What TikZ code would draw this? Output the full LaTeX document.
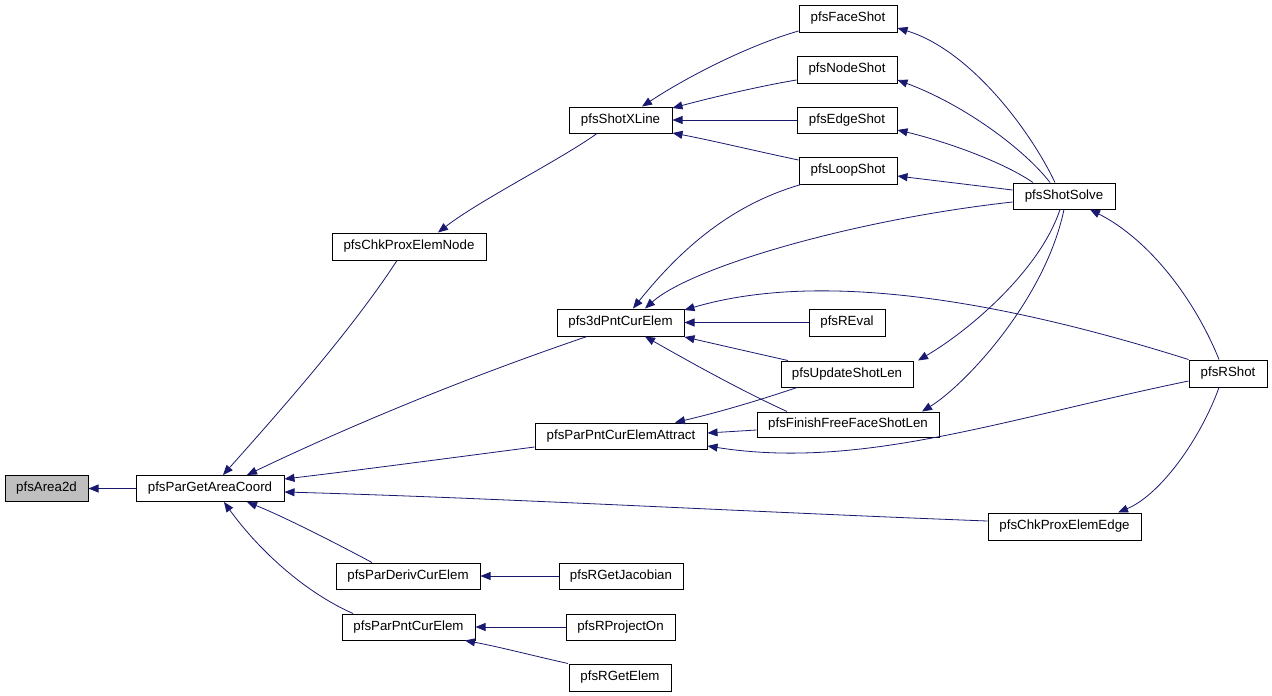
\documentclass[tikz,border=0pt]{standalone}
\usepackage{fontspec}
\setmainfont{Liberation Sans}
\usetikzlibrary{arrows.meta}
\definecolor{edgeblue}{HTML}{191970}
\definecolor{rootgray}{HTML}{BFBFBF}
\begin{document}
\begin{tikzpicture}[x=1pt,y=-1pt,
  fn/.style={draw=black,line width=1pt,inner sep=0pt,minimum height=26pt,fill=white,
    font=\fontsize{13.3pt}{16pt}\selectfont},
  call/.style={draw=edgeblue,line width=0.8pt,-{Triangle[length=10pt,width=8pt]}}]
\useasboundingbox[fill=white] (0,0) rectangle (1272,696);
% nodes
\node[fn,minimum width=83pt,fill=rootgray] (area) at (46.5,488.5) {pfsArea2d};
\node[fn,minimum width=148pt] (pgac) at (210,488.5) {pfsParGetAreaCoord};
\node[fn,minimum width=154pt,minimum height=27pt] (chkNode) at (409,246.5) {pfsChkProxElemNode};
\node[fn,minimum width=103pt] (shotX) at (620.5,120) {pfsShotXLine};
\node[fn,minimum width=98pt,minimum height=27pt] (faceShot) at (848,18.5) {pfsFaceShot};
\node[fn,minimum width=100pt,minimum height=27pt] (nodeShot) at (847,69.5) {pfsNodeShot};
\node[fn,minimum width=100pt] (edgeShot) at (847,120) {pfsEdgeShot};
\node[fn,minimum width=98pt,minimum height=27pt] (loopShot) at (848,170.5) {pfsLoopShot};
\node[fn,minimum width=102pt] (shotSolve) at (1064,196) {pfsShotSolve};
\node[fn,minimum width=78pt,minimum height=27pt] (rShot) at (1228,373.5) {pfsRShot};
\node[fn,minimum width=127pt,minimum height=27pt] (pnt3d) at (620.5,322.5) {pfs3dPntCurElem};
\node[fn,minimum width=76pt,minimum height=27pt] (rEval) at (847,322.5) {pfsREval};
\node[fn,minimum width=132pt] (updShot) at (847,374) {pfsUpdateShotLen};
\node[fn,minimum width=182pt,minimum height=25pt] (finish) at (848,424.5) {pfsFinishFreeFaceShotLen};
\node[fn,minimum width=172pt] (attract) at (621,436) {pfsParPntCurElemAttract};
\node[fn,minimum width=153pt,minimum height=27pt] (chkEdge) at (1064.5,526.5) {pfsChkProxElemEdge};
\node[fn,minimum width=144pt] (parDeriv) at (408,576) {pfsParDerivCurElem};
\node[fn,minimum width=124pt] (rGetJac) at (621,576) {pfsRGetJacobian};
\node[fn,minimum width=133pt] (parPnt) at (408.5,627) {pfsParPntCurElem};
\node[fn,minimum width=109pt] (rProj) at (620.5,627) {pfsRProjectOn};
\node[fn,minimum width=102pt,minimum height=27pt] (rGetElem) at (620,677.5) {pfsRGetElem};
% edges
\draw[call] (pgac.west) -- (area.east);
\draw[call] (397,0 |- chkNode.south) .. controls (355,325) and (290,400) .. (223,0 |- pgac.north);
\draw[call] (587,0 |- pnt3d.south) .. controls (474,375) and (360,421) .. (247,0 |- pgac.north);
\draw[call] (attract.west |- 0,447) .. controls (450,458) and (360,470) .. (pgac.east |- 0,479);
\draw[call] (chkEdge.west |- 0,521) .. controls (750,512) and (500,498) .. (pgac.east |- 0,492);
\draw[call] (372,0 |- parDeriv.north) .. controls (330,540) and (280,515) .. (247,0 |- pgac.south);
\draw[call] (353,0 |- parPnt.north) .. controls (300,590) and (255,545) .. (224,0 |- pgac.south);
\draw[call] (597,0 |- shotX.south) .. controls (560,160) and (480,200) .. (438,0 |- chkNode.north);
\draw[call] (faceShot.west |- 0,31) .. controls (750,45) and (690,75) .. (642,0 |- shotX.north);
\draw[call] (nodeShot.west |- 0,80) .. controls (760,86) and (710,98) .. (shotX.east |- 0,108);
\draw[call] (edgeShot.west) -- (shotX.east);
\draw[call] (loopShot.west |- 0,160) .. controls (760,152) and (710,140) .. (shotX.east |- 0,133);
\draw[call] (1055,0 |- shotSolve.north) .. controls (1030,130) and (970,50) .. (faceShot.east |- 0,28);
\draw[call] (1050,0 |- shotSolve.north) .. controls (1025,150) and (965,105) .. (nodeShot.east |- 0,80);
\draw[call] (1033,0 |- shotSolve.north) .. controls (1000,160) and (940,140) .. (edgeShot.east |- 0,130);
\draw[call] (shotSolve.west |- 0,190) .. controls (980,186) and (930,180) .. (loopShot.east |- 0,176);
\draw[call] (shotSolve.west |- 0,202) .. controls (850,220) and (690,268) .. (645,0 |- pnt3d.north);
\draw[call] (801,0 |- loopShot.south) .. controls (730,205) and (680,250) .. (633,0 |- pnt3d.north);
\draw[call] (rEval.west) -- (pnt3d.east);
\draw[call] (788,0 |- updShot.north) .. controls (750,352) and (720,345) .. (pnt3d.east |- 0,337);
\draw[call] (787,0 |- finish.north) .. controls (740,390) and (690,362) .. (645,0 |- pnt3d.south);
\draw[call] (rShot.north west) .. controls (1000,300) and (820,270) .. (pnt3d.east |- 0,310);
\draw[call] (1060,0 |- shotSolve.south) .. controls (1040,270) and (970,330) .. (918,0 |- updShot.north);
\draw[call] (1064,0 |- shotSolve.south) .. controls (1045,300) and (965,385) .. (922,0 |- finish.north);
\draw[call] (797,0 |- updShot.south) .. controls (760,400) and (720,412) .. (675,0 |- attract.north);
\draw[call] (finish.west |- 0,430) -- (attract.east |- 0,433);
\draw[call] (rShot.west |- 0,381) .. controls (1000,420) and (860,470) .. (attract.east |- 0,446);
\draw[call] (1219,0 |- rShot.north) .. controls (1195,300) and (1150,240) .. (1090,0 |- shotSolve.south);
\draw[call] (1219,0 |- rShot.south) .. controls (1200,440) and (1160,495) .. (1118,0 |- chkEdge.north);
\draw[call] (rGetJac.west) -- (parDeriv.east);
\draw[call] (rProj.west) -- (parPnt.east);
\draw[call] (568,0 |- rGetElem.north) .. controls (530,655) and (500,647) .. (465,0 |- parPnt.south);
\end{tikzpicture}
\end{document}
